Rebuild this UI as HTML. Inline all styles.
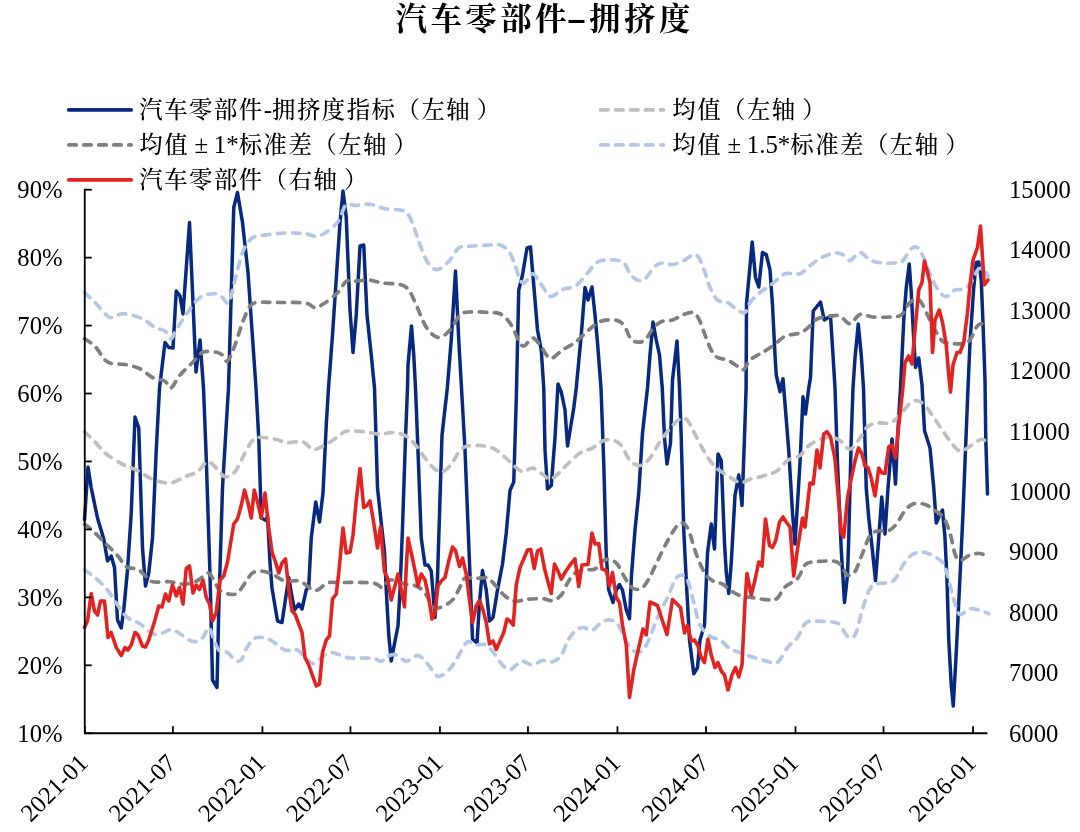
<!DOCTYPE html>
<html lang="zh"><head><meta charset="utf-8"><title>汽车零部件-拥挤度</title>
<style>
html,body{margin:0;padding:0;background:#fff;}
body{width:1080px;height:832px;overflow:hidden;position:relative}
svg{display:block;position:absolute;left:0;top:0}
.title{position:absolute;left:0;top:0;width:1080px;height:44px;margin:0;white-space:nowrap;
 font-family:"Liberation Serif","Noto Serif CJK SC",serif;font-weight:700;font-size:31.5px;line-height:44px;letter-spacing:3.4px;color:#000}
.title .in{position:absolute;left:395.5px;top:-3.5px}
.title .dash{display:inline-block;font-family:"Liberation Sans",sans-serif;letter-spacing:0;width:19px;text-align:center;transform:translate(-3px,0px) scale(2.0,.8)}
.lg{font-family:"Liberation Serif","Noto Serif CJK SC",serif;font-size:23.4px;letter-spacing:1.5px;fill:#000;font-weight:500}
.lg .l{font-family:"Liberation Serif",serif;font-size:24.9px;letter-spacing:0;font-weight:400}
.ax{font-family:"Liberation Serif",serif;font-size:24.7px;fill:#000}
.ln{fill:none;stroke-linejoin:round;stroke-linecap:round}
</style></head><body>
<svg width="1080" height="832" viewBox="0 0 1080 832">
<rect width="1080" height="832" fill="#fff"/>
<line x1="68.8" y1="109.9" x2="131.2" y2="109.9" stroke="#07297f" stroke-width="3.8" stroke-linecap="round"/>
<text class="lg" x="139.3" y="118.20">汽车零部件<tspan class="l">-</tspan>拥挤度指标（左轴<tspan dx="5.5">）</tspan></text>
<line x1="68.8" y1="144.9" x2="131.2" y2="144.9" stroke="#7f7f7f" stroke-width="3.8" stroke-linecap="round" stroke-dasharray="7.4 7.6"/>
<text class="lg" x="139.3" y="153.20">均值<tspan class="l" dx="5.5">±</tspan><tspan class="l" dx="5.5">1*</tspan>标准差（左轴<tspan dx="5.5">）</tspan></text>
<line x1="68.8" y1="179.8" x2="131.2" y2="179.8" stroke="#e12322" stroke-width="3.8" stroke-linecap="round"/>
<text class="lg" x="139.3" y="188.10">汽车零部件（右轴<tspan dx="5.5">）</tspan></text>
<line x1="600.65" y1="109.9" x2="663.35" y2="109.9" stroke="#bfbfbf" stroke-width="3.8" stroke-linecap="round" stroke-dasharray="7.4 7.6"/>
<text class="lg" x="672.3" y="118.20">均值（左轴<tspan dx="5.5">）</tspan></text>
<line x1="600.65" y1="144.9" x2="663.35" y2="144.9" stroke="#b4c7e7" stroke-width="3.8" stroke-linecap="round" stroke-dasharray="7.4 7.6"/>
<text class="lg" x="672.3" y="153.20">均值<tspan class="l" dx="5.5">±</tspan><tspan class="l" dx="5.5">1.5*</tspan>标准差（左轴<tspan dx="5.5">）</tspan></text>
<polyline class="ln" points="84.50,520.00 88.00,467.00 91.25,488.00 97.50,518.00 103.75,539.00 107.50,561.00 111.25,556.00 114.50,567.50 117.50,620.00 121.25,628.00 123.75,610.00 127.50,570.00 131.25,513.00 135.00,417.00 138.75,428.00 142.50,548.00 145.50,586.00 148.75,573.00 152.50,538.00 156.25,450.00 159.50,388.00 165.00,342.50 168.75,347.50 173.00,348.00 176.25,291.00 180.00,296.00 183.00,314.00 189.50,222.50 196.00,372.00 200.00,340.00 203.50,388.00 206.25,458.00 210.00,575.00 212.50,680.00 217.00,687.50 218.75,610.00 222.50,488.00 226.25,425.00 228.50,388.00 233.75,207.50 237.50,192.50 242.50,222.50 248.00,272.50 256.00,388.00 258.75,438.00 261.25,518.00 266.25,520.50 267.50,515.50 270.00,563.00 272.00,588.00 277.50,621.00 282.00,622.50 288.75,577.50 291.25,592.50 294.50,610.00 298.75,604.00 302.00,609.00 306.25,590.00 308.75,586.00 311.25,538.00 315.75,502.00 319.50,522.00 323.00,493.00 326.25,425.00 328.50,388.00 332.50,335.00 340.00,222.50 343.00,191.00 346.25,217.50 350.00,310.00 353.00,352.50 356.25,315.00 360.00,246.00 363.75,245.00 367.00,315.00 371.25,355.00 374.50,388.00 377.50,488.00 381.25,523.00 384.50,552.00 386.25,590.00 388.75,635.00 391.25,661.00 393.75,647.50 398.00,626.00 400.00,590.00 402.50,528.00 405.50,438.00 407.50,388.00 408.00,365.00 411.50,326.00 413.75,355.00 415.50,388.00 417.50,438.00 421.25,538.00 425.00,565.00 428.00,565.00 431.25,571.00 435.00,617.50 437.50,577.50 438.75,538.00 442.00,435.50 447.30,388.00 451.25,340.00 455.50,271.00 458.75,340.00 461.50,388.00 465.00,450.00 470.00,575.00 472.50,639.00 477.00,643.00 479.50,602.50 482.50,570.50 486.25,590.00 489.50,621.00 493.00,617.50 497.50,590.00 502.50,564.00 506.25,533.00 510.00,490.50 513.75,482.00 516.25,400.00 518.75,290.00 522.50,275.00 527.00,248.00 530.50,247.00 533.75,285.00 537.50,330.00 541.25,350.00 543.75,388.00 545.00,450.00 547.50,489.00 551.25,485.50 555.00,438.00 558.00,384.00 561.25,392.00 565.00,410.00 567.50,446.00 573.75,408.00 576.25,388.00 581.25,335.00 585.00,287.50 588.00,300.00 592.00,287.00 595.00,315.00 597.50,342.50 601.00,388.00 603.75,463.00 606.25,555.00 608.75,590.00 613.00,602.50 616.25,590.00 619.50,584.50 622.50,590.00 626.25,610.00 629.50,618.75 631.50,575.00 635.00,530.00 638.75,493.00 642.50,433.00 647.50,388.00 650.00,355.00 653.00,322.00 656.25,340.00 659.50,355.00 662.25,388.00 664.50,438.00 667.00,464.00 670.50,443.00 672.50,380.00 677.00,341.00 679.50,388.00 681.25,438.00 683.75,530.00 686.25,580.00 689.50,640.00 693.75,673.75 697.50,667.50 700.00,640.00 704.50,625.00 707.50,553.00 711.25,524.00 714.50,549.00 718.00,454.00 721.25,460.50 724.50,543.00 726.25,572.00 728.75,593.50 731.25,563.00 735.00,495.50 738.75,475.00 742.00,505.50 744.50,438.00 746.10,388.00 746.50,304.00 752.20,242.00 755.50,277.50 758.75,287.00 762.50,252.50 766.25,254.50 770.00,270.00 772.50,305.00 775.00,355.00 776.25,375.00 780.00,391.75 783.00,378.75 788.75,450.50 792.50,513.00 795.00,544.00 800.00,463.00 803.00,396.75 805.50,414.00 808.75,388.00 810.50,377.50 813.25,311.00 820.50,302.00 824.25,320.00 830.50,316.00 833.00,355.00 835.00,388.00 837.50,463.00 841.25,550.00 844.50,602.50 847.50,575.00 848.75,538.00 851.25,438.00 853.00,388.00 855.00,358.00 858.25,324.00 861.25,355.00 863.50,388.00 866.25,488.00 868.75,518.00 872.50,551.00 875.50,580.50 878.75,538.00 881.75,497.00 885.00,534.00 888.00,488.00 892.00,439.00 895.50,484.00 897.50,438.00 900.50,388.00 903.75,320.00 906.25,287.50 909.25,264.00 911.25,292.50 913.75,340.00 915.50,367.50 918.75,358.00 922.00,385.00 924.50,430.50 930.00,448.00 933.75,488.00 936.25,523.00 939.50,515.50 942.50,510.00 945.00,538.00 947.00,580.00 948.75,640.00 951.25,685.00 953.25,706.00 956.25,652.50 958.75,602.50 961.00,556.00 963.00,513.00 965.50,450.00 968.00,388.00 970.00,342.50 973.75,287.50 976.25,262.50 978.75,262.00 981.25,280.00 983.25,330.00 985.00,380.00 985.75,438.00 987.50,494.00" stroke="#07297f" stroke-width="3.5"/>
<path class="ln" d="M84.50 431.75C86.25 433.42 91.58 438.21 95.00 441.75C98.42 445.29 100.42 449.25 105.00 453.00C109.58 456.75 117.08 461.33 122.50 464.25C127.92 467.17 132.50 468.00 137.50 470.50C142.50 473.00 147.08 477.17 152.50 479.25C157.92 481.33 164.58 483.42 170.00 483.00C175.42 482.58 180.42 478.62 185.00 476.75C189.58 474.88 193.75 474.25 197.50 471.75C201.25 469.25 204.38 462.38 207.50 461.75C210.62 461.12 213.33 465.50 216.25 468.00C219.17 470.50 221.88 476.12 225.00 476.75C228.12 477.38 231.67 475.71 235.00 471.75C238.33 467.79 242.08 458.21 245.00 453.00C247.92 447.79 250.00 443.12 252.50 440.50C255.00 437.88 256.25 437.46 260.00 437.25C263.75 437.04 270.42 438.38 275.00 439.25C279.58 440.12 282.92 442.08 287.50 442.50C292.08 442.92 298.33 440.62 302.50 441.75C306.67 442.88 309.58 448.29 312.50 449.25C315.42 450.21 316.67 448.96 320.00 447.50C323.33 446.04 328.75 442.92 332.50 440.50C336.25 438.08 340.00 434.58 342.50 433.00C345.00 431.42 343.75 431.21 347.50 431.00C351.25 430.79 359.58 431.21 365.00 431.75C370.42 432.29 375.42 434.12 380.00 434.25C384.58 434.38 388.33 432.29 392.50 432.50C396.67 432.71 401.25 433.54 405.00 435.50C408.75 437.46 411.67 440.50 415.00 444.25C418.33 448.00 421.67 453.83 425.00 458.00C428.33 462.17 432.08 466.96 435.00 469.25C437.92 471.54 439.79 472.58 442.50 471.75C445.21 470.92 448.33 467.79 451.25 464.25C454.17 460.71 457.29 453.54 460.00 450.50C462.71 447.46 464.17 446.83 467.50 446.00C470.83 445.17 475.83 445.17 480.00 445.50C484.17 445.83 488.75 446.42 492.50 448.00C496.25 449.58 499.17 452.29 502.50 455.00C505.83 457.71 509.17 461.46 512.50 464.25C515.83 467.04 519.17 471.12 522.50 471.75C525.83 472.38 529.17 467.58 532.50 468.00C535.83 468.42 539.58 472.38 542.50 474.25C545.42 476.12 547.50 479.25 550.00 479.25C552.50 479.25 554.58 476.75 557.50 474.25C560.42 471.75 563.75 467.79 567.50 464.25C571.25 460.71 575.83 455.71 580.00 453.00C584.17 450.29 588.75 450.00 592.50 448.00C596.25 446.00 599.17 442.33 602.50 441.00C605.83 439.67 609.38 439.25 612.50 440.00C615.62 440.75 618.33 442.08 621.25 445.50C624.17 448.92 626.88 457.17 630.00 460.50C633.12 463.83 636.67 465.92 640.00 465.50C643.33 465.08 646.67 461.96 650.00 458.00C653.33 454.04 656.25 447.17 660.00 441.75C663.75 436.33 668.96 429.38 672.50 425.50C676.04 421.62 678.75 419.33 681.25 418.50C683.75 417.67 685.21 417.88 687.50 420.50C689.79 423.12 692.08 428.83 695.00 434.25C697.92 439.67 701.67 447.58 705.00 453.00C708.33 458.42 711.25 463.00 715.00 466.75C718.75 470.50 723.33 472.88 727.50 475.50C731.67 478.12 736.25 481.88 740.00 482.50C743.75 483.12 745.83 480.42 750.00 479.25C754.17 478.08 760.42 476.96 765.00 475.50C769.58 474.04 773.75 473.00 777.50 470.50C781.25 468.00 783.75 463.00 787.50 460.50C791.25 458.00 796.67 457.79 800.00 455.50C803.33 453.21 804.58 449.25 807.50 446.75C810.42 444.25 813.75 442.12 817.50 440.50C821.25 438.88 826.25 437.00 830.00 437.00C833.75 437.00 836.67 438.46 840.00 440.50C843.33 442.54 846.67 449.67 850.00 449.25C853.33 448.83 857.08 441.75 860.00 438.00C862.92 434.25 864.58 429.25 867.50 426.75C870.42 424.25 873.75 423.62 877.50 423.00C881.25 422.38 886.25 424.25 890.00 423.00C893.75 421.75 896.88 418.62 900.00 415.50C903.12 412.38 906.04 406.75 908.75 404.25C911.46 401.75 913.75 400.50 916.25 400.50C918.75 400.50 921.04 401.75 923.75 404.25C926.46 406.75 929.38 411.12 932.50 415.50C935.62 419.88 939.17 425.71 942.50 430.50C945.83 435.29 949.58 440.83 952.50 444.25C955.42 447.67 957.50 450.38 960.00 451.00C962.50 451.62 964.58 449.67 967.50 448.00C970.42 446.33 975.00 442.46 977.50 441.00C980.00 439.54 981.04 439.12 982.50 439.25C983.96 439.38 985.62 441.33 986.25 441.75" stroke="#bfbfbf" stroke-width="3.7" stroke-dasharray="7.4 7.6"/>
<path class="ln" d="M84.50 338.75C86.25 340.00 91.58 342.71 95.00 346.25C98.42 349.79 102.08 357.08 105.00 360.00C107.92 362.92 109.17 363.00 112.50 363.75C115.83 364.50 120.42 363.67 125.00 364.50C129.58 365.33 135.42 366.58 140.00 368.75C144.58 370.92 148.33 375.42 152.50 377.50C156.67 379.58 161.92 379.50 165.00 381.25C168.08 383.00 168.50 389.04 171.00 388.00C173.50 386.96 176.42 379.25 180.00 375.00C183.58 370.75 188.75 366.25 192.50 362.50C196.25 358.75 198.75 354.25 202.50 352.50C206.25 350.75 211.67 351.58 215.00 352.00C218.33 352.42 220.42 353.46 222.50 355.00C224.58 356.54 225.42 362.92 227.50 361.25C229.58 359.58 232.50 351.46 235.00 345.00C237.50 338.54 240.00 328.96 242.50 322.50C245.00 316.04 247.50 309.58 250.00 306.25C252.50 302.92 252.50 303.12 257.50 302.50C262.50 301.88 272.08 302.42 280.00 302.50C287.92 302.58 299.17 302.17 305.00 303.00C310.83 303.83 311.88 307.38 315.00 307.50C318.12 307.62 320.42 305.83 323.75 303.75C327.08 301.67 332.29 297.29 335.00 295.00C337.71 292.71 338.12 292.29 340.00 290.00C341.88 287.71 343.75 282.71 346.25 281.25C348.75 279.79 351.25 281.46 355.00 281.25C358.75 281.04 364.17 279.71 368.75 280.00C373.33 280.29 377.29 282.25 382.50 283.00C387.71 283.75 395.62 283.33 400.00 284.50C404.38 285.67 406.04 286.58 408.75 290.00C411.46 293.42 413.54 299.17 416.25 305.00C418.96 310.83 422.08 319.92 425.00 325.00C427.92 330.08 431.04 333.50 433.75 335.50C436.46 337.50 438.54 337.92 441.25 337.00C443.96 336.08 446.88 333.67 450.00 330.00C453.12 326.33 456.67 318.00 460.00 315.00C463.33 312.00 465.00 312.42 470.00 312.00C475.00 311.58 485.00 312.21 490.00 312.50C495.00 312.79 496.88 312.29 500.00 313.75C503.12 315.21 506.25 318.12 508.75 321.25C511.25 324.38 513.12 328.75 515.00 332.50C516.88 336.25 518.33 341.58 520.00 343.75C521.67 345.92 522.92 346.46 525.00 345.50C527.08 344.54 530.00 338.08 532.50 338.00C535.00 337.92 537.50 341.96 540.00 345.00C542.50 348.04 545.42 354.08 547.50 356.25C549.58 358.42 550.00 359.04 552.50 358.00C555.00 356.96 558.75 352.58 562.50 350.00C566.25 347.42 570.83 345.62 575.00 342.50C579.17 339.38 583.33 334.75 587.50 331.25C591.67 327.75 595.42 323.38 600.00 321.50C604.58 319.62 611.04 319.42 615.00 320.00C618.96 320.58 621.25 322.08 623.75 325.00C626.25 327.92 627.92 334.67 630.00 337.50C632.08 340.33 633.75 341.58 636.25 342.00C638.75 342.42 642.08 342.42 645.00 340.00C647.92 337.58 650.83 330.62 653.75 327.50C656.67 324.38 659.38 322.50 662.50 321.25C665.62 320.00 669.17 321.04 672.50 320.00C675.83 318.96 679.17 316.25 682.50 315.00C685.83 313.75 689.79 311.88 692.50 312.50C695.21 313.12 696.67 315.00 698.75 318.75C700.83 322.50 702.92 329.79 705.00 335.00C707.08 340.21 709.17 346.25 711.25 350.00C713.33 353.75 714.79 355.83 717.50 357.50C720.21 359.17 724.17 358.54 727.50 360.00C730.83 361.46 734.79 364.67 737.50 366.25C740.21 367.83 741.67 370.54 743.75 369.50C745.83 368.46 747.29 362.62 750.00 360.00C752.71 357.38 756.25 356.04 760.00 353.75C763.75 351.46 768.33 349.17 772.50 346.25C776.67 343.33 780.42 338.46 785.00 336.25C789.58 334.04 795.83 334.71 800.00 333.00C804.17 331.29 807.08 328.38 810.00 326.00C812.92 323.62 814.17 320.38 817.50 318.75C820.83 317.12 826.25 316.71 830.00 316.25C833.75 315.79 836.67 314.75 840.00 316.00C843.33 317.25 846.67 324.00 850.00 323.75C853.33 323.50 856.25 315.62 860.00 314.50C863.75 313.38 867.50 316.58 872.50 317.00C877.50 317.42 885.21 317.33 890.00 317.00C894.79 316.67 898.12 317.21 901.25 315.00C904.38 312.79 906.25 306.46 908.75 303.75C911.25 301.04 914.17 298.96 916.25 298.75C918.33 298.54 919.38 299.79 921.25 302.50C923.12 305.21 925.21 310.42 927.50 315.00C929.79 319.58 932.50 325.62 935.00 330.00C937.50 334.38 940.00 339.08 942.50 341.25C945.00 343.42 946.67 342.58 950.00 343.00C953.33 343.42 959.17 344.25 962.50 343.75C965.83 343.25 967.71 342.71 970.00 340.00C972.29 337.29 974.38 330.21 976.25 327.50C978.12 324.79 979.58 323.67 981.25 323.75C982.92 323.83 985.42 327.29 986.25 328.00" stroke="#7f7f7f" stroke-width="3.7" stroke-dasharray="7.4 7.6"/>
<path class="ln" d="M84.50 524.25C85.83 525.29 89.08 527.38 92.50 530.50C95.92 533.62 100.83 538.83 105.00 543.00C109.17 547.17 113.96 551.54 117.50 555.50C121.04 559.46 122.92 564.46 126.25 566.75C129.58 569.04 134.38 567.79 137.50 569.25C140.62 570.71 142.50 573.42 145.00 575.50C147.50 577.58 148.33 580.71 152.50 581.75C156.67 582.79 164.58 581.33 170.00 581.75C175.42 582.17 180.42 584.46 185.00 584.25C189.58 584.04 193.75 582.38 197.50 580.50C201.25 578.62 205.00 573.42 207.50 573.00C210.00 572.58 210.42 575.08 212.50 578.00C214.58 580.92 217.08 587.79 220.00 590.50C222.92 593.21 227.08 593.83 230.00 594.25C232.92 594.67 235.00 594.88 237.50 593.00C240.00 591.12 242.50 586.33 245.00 583.00C247.50 579.67 249.58 574.96 252.50 573.00C255.42 571.04 259.17 571.04 262.50 571.25C265.83 571.46 268.75 572.62 272.50 574.25C276.25 575.88 280.42 579.83 285.00 581.00C289.58 582.17 295.00 579.67 300.00 581.25C305.00 582.83 310.42 590.21 315.00 590.50C319.58 590.79 323.33 584.33 327.50 583.00C331.67 581.67 332.50 582.50 340.00 582.50C347.50 582.50 365.42 582.17 372.50 583.00C379.58 583.83 379.58 588.00 382.50 587.50C385.42 587.00 386.25 580.58 390.00 580.00C393.75 579.42 400.42 582.92 405.00 584.00C409.58 585.08 413.96 584.67 417.50 586.50C421.04 588.33 423.75 591.71 426.25 595.00C428.75 598.29 430.21 604.17 432.50 606.25C434.79 608.33 436.67 608.54 440.00 607.50C443.33 606.46 449.17 603.42 452.50 600.00C455.83 596.58 457.92 590.67 460.00 587.00C462.08 583.33 462.50 579.42 465.00 578.00C467.50 576.58 471.25 578.50 475.00 578.50C478.75 578.50 484.17 576.92 487.50 578.00C490.83 579.08 492.08 582.00 495.00 585.00C497.92 588.00 501.67 593.29 505.00 596.00C508.33 598.71 511.25 600.71 515.00 601.25C518.75 601.79 522.92 599.67 527.50 599.25C532.08 598.83 538.33 598.54 542.50 598.75C546.67 598.96 549.38 601.12 552.50 600.50C555.62 599.88 558.75 597.92 561.25 595.00C563.75 592.08 565.42 586.50 567.50 583.00C569.58 579.50 571.25 576.17 573.75 574.00C576.25 571.83 578.96 570.83 582.50 570.00C586.04 569.17 591.67 570.50 595.00 569.00C598.33 567.50 600.00 562.58 602.50 561.00C605.00 559.42 607.50 558.92 610.00 559.50C612.50 560.08 615.00 561.42 617.50 564.50C620.00 567.58 622.50 574.08 625.00 578.00C627.50 581.92 629.79 586.25 632.50 588.00C635.21 589.75 638.54 590.00 641.25 588.50C643.96 587.00 646.04 583.58 648.75 579.00C651.46 574.42 654.38 567.33 657.50 561.00C660.62 554.67 664.38 546.71 667.50 541.00C670.62 535.29 673.75 529.75 676.25 526.75C678.75 523.75 680.42 522.38 682.50 523.00C684.58 523.62 686.46 525.33 688.75 530.50C691.04 535.67 693.54 546.83 696.25 554.00C698.96 561.17 702.08 568.92 705.00 573.50C707.92 578.08 710.83 579.75 713.75 581.50C716.67 583.25 719.79 582.58 722.50 584.00C725.21 585.42 727.08 588.08 730.00 590.00C732.92 591.92 735.83 594.17 740.00 595.50C744.17 596.83 750.00 597.25 755.00 598.00C760.00 598.75 766.25 600.00 770.00 600.00C773.75 600.00 775.00 600.17 777.50 598.00C780.00 595.83 781.67 590.25 785.00 587.00C788.33 583.75 794.17 582.17 797.50 578.50C800.83 574.83 802.50 567.75 805.00 565.00C807.50 562.25 807.92 562.67 812.50 562.00C817.08 561.33 827.92 560.67 832.50 561.00C837.08 561.33 837.50 561.67 840.00 564.00C842.50 566.33 845.00 573.75 847.50 575.00C850.00 576.25 852.50 575.08 855.00 571.50C857.50 567.92 860.00 559.50 862.50 553.50C865.00 547.50 867.50 539.25 870.00 535.50C872.50 531.75 874.38 531.83 877.50 531.00C880.62 530.17 885.62 531.62 888.75 530.50C891.88 529.38 893.54 527.58 896.25 524.25C898.96 520.92 902.29 513.83 905.00 510.50C907.71 507.17 910.00 505.42 912.50 504.25C915.00 503.08 917.50 503.29 920.00 503.50C922.50 503.71 925.00 504.33 927.50 505.50C930.00 506.67 932.29 508.42 935.00 510.50C937.71 512.58 941.25 514.25 943.75 518.00C946.25 521.75 948.12 527.00 950.00 533.00C951.88 539.00 953.33 549.42 955.00 554.00C956.67 558.58 957.50 560.33 960.00 560.50C962.50 560.67 966.67 556.17 970.00 555.00C973.33 553.83 976.88 553.17 980.00 553.50C983.12 553.83 987.29 556.42 988.75 557.00" stroke="#7f7f7f" stroke-width="3.7" stroke-dasharray="7.4 7.6"/>
<path class="ln" d="M84.50 292.50C86.25 294.17 91.58 298.96 95.00 302.50C98.42 306.04 102.33 311.25 105.00 313.75C107.67 316.25 107.88 317.50 111.00 317.50C114.12 317.50 118.50 313.54 123.75 313.75C129.00 313.96 137.29 316.46 142.50 318.75C147.71 321.04 151.25 325.46 155.00 327.50C158.75 329.54 162.33 329.12 165.00 331.00C167.67 332.88 169.17 338.92 171.00 338.75C172.83 338.58 173.25 334.38 176.00 330.00C178.75 325.62 183.50 317.92 187.50 312.50C191.50 307.08 195.42 300.62 200.00 297.50C204.58 294.38 211.25 293.75 215.00 293.75C218.75 293.75 220.21 296.04 222.50 297.50C224.79 298.96 226.67 305.42 228.75 302.50C230.83 299.58 232.71 288.33 235.00 280.00C237.29 271.67 240.00 259.17 242.50 252.50C245.00 245.83 247.50 242.71 250.00 240.00C252.50 237.29 251.67 237.42 257.50 236.25C263.33 235.08 277.08 233.42 285.00 233.00C292.92 232.58 300.00 233.21 305.00 233.75C310.00 234.29 311.88 236.25 315.00 236.25C318.12 236.25 320.42 235.62 323.75 233.75C327.08 231.88 332.29 227.62 335.00 225.00C337.71 222.38 338.33 221.17 340.00 218.00C341.67 214.83 343.33 208.25 345.00 206.00C346.67 203.75 348.33 204.58 350.00 204.50C351.67 204.42 351.67 205.54 355.00 205.50C358.33 205.46 365.00 203.71 370.00 204.25C375.00 204.79 379.58 207.71 385.00 208.75C390.42 209.79 398.33 209.04 402.50 210.50C406.67 211.96 407.50 213.00 410.00 217.50C412.50 222.00 415.00 230.83 417.50 237.50C420.00 244.17 422.50 252.42 425.00 257.50C427.50 262.58 430.00 266.12 432.50 268.00C435.00 269.88 437.08 270.08 440.00 268.75C442.92 267.42 446.88 263.46 450.00 260.00C453.12 256.54 455.42 250.29 458.75 248.00C462.08 245.71 464.79 246.75 470.00 246.25C475.21 245.75 485.00 245.21 490.00 245.00C495.00 244.79 496.88 243.96 500.00 245.00C503.12 246.04 506.25 247.92 508.75 251.25C511.25 254.58 513.12 260.21 515.00 265.00C516.88 269.79 518.33 277.08 520.00 280.00C521.67 282.92 522.92 283.54 525.00 282.50C527.08 281.46 530.00 273.75 532.50 273.75C535.00 273.75 537.50 279.17 540.00 282.50C542.50 285.83 545.42 291.46 547.50 293.75C549.58 296.04 550.00 296.96 552.50 296.25C555.00 295.54 558.75 291.17 562.50 289.50C566.25 287.83 571.25 288.46 575.00 286.25C578.75 284.04 581.25 280.29 585.00 276.25C588.75 272.21 593.33 264.71 597.50 262.00C601.67 259.29 607.08 260.33 610.00 260.00C612.92 259.67 612.71 259.58 615.00 260.00C617.29 260.42 621.25 260.21 623.75 262.50C626.25 264.79 627.71 270.83 630.00 273.75C632.29 276.67 635.00 279.17 637.50 280.00C640.00 280.83 642.08 281.04 645.00 278.75C647.92 276.46 652.08 268.88 655.00 266.25C657.92 263.62 659.58 263.29 662.50 263.00C665.42 262.71 668.75 265.00 672.50 264.50C676.25 264.00 681.67 261.58 685.00 260.00C688.33 258.42 690.21 255.42 692.50 255.00C694.79 254.58 696.67 254.58 698.75 257.50C700.83 260.42 703.12 267.50 705.00 272.50C706.88 277.50 707.92 282.92 710.00 287.50C712.08 292.08 714.58 297.50 717.50 300.00C720.42 302.50 724.17 300.83 727.50 302.50C730.83 304.17 734.58 308.33 737.50 310.00C740.42 311.67 742.92 313.75 745.00 312.50C747.08 311.25 747.50 305.83 750.00 302.50C752.50 299.17 756.25 295.62 760.00 292.50C763.75 289.38 768.33 286.88 772.50 283.75C776.67 280.62 780.42 275.42 785.00 273.75C789.58 272.08 795.42 275.42 800.00 273.75C804.58 272.08 808.75 266.54 812.50 263.75C816.25 260.96 818.75 258.79 822.50 257.00C826.25 255.21 831.67 253.42 835.00 253.00C838.33 252.58 840.00 253.25 842.50 254.50C845.00 255.75 847.08 260.83 850.00 260.50C852.92 260.17 856.67 252.58 860.00 252.50C863.33 252.42 866.25 258.25 870.00 260.00C873.75 261.75 878.33 262.50 882.50 263.00C886.67 263.50 891.67 263.29 895.00 263.00C898.33 262.71 900.00 263.42 902.50 261.25C905.00 259.08 907.71 252.38 910.00 250.00C912.29 247.62 914.38 246.58 916.25 247.00C918.12 247.42 919.38 249.08 921.25 252.50C923.12 255.92 925.21 262.08 927.50 267.50C929.79 272.92 932.50 280.42 935.00 285.00C937.50 289.58 940.42 293.12 942.50 295.00C944.58 296.88 945.42 297.08 947.50 296.25C949.58 295.42 952.08 291.25 955.00 290.00C957.92 288.75 962.08 290.42 965.00 288.75C967.92 287.08 970.21 283.33 972.50 280.00C974.79 276.67 976.67 270.21 978.75 268.75C980.83 267.29 983.46 270.00 985.00 271.25C986.54 272.50 987.50 275.42 988.00 276.25" stroke="#b4c7e7" stroke-width="3.7" stroke-dasharray="7.4 7.6"/>
<path class="ln" d="M84.50 570.00C86.25 571.25 91.17 574.17 95.00 577.50C98.83 580.83 103.75 585.42 107.50 590.00C111.25 594.58 114.17 600.42 117.50 605.00C120.83 609.58 123.75 614.38 127.50 617.50C131.25 620.62 135.83 621.04 140.00 623.75C144.17 626.46 148.75 632.21 152.50 633.75C156.25 635.29 159.38 633.71 162.50 633.00C165.62 632.29 168.33 629.38 171.25 629.50C174.17 629.62 176.88 631.92 180.00 633.75C183.12 635.58 187.08 639.25 190.00 640.50C192.92 641.75 195.21 641.96 197.50 641.25C199.79 640.54 201.88 638.54 203.75 636.25C205.62 633.96 207.08 627.08 208.75 627.50C210.42 627.92 212.08 635.00 213.75 638.75C215.42 642.50 216.46 647.71 218.75 650.00C221.04 652.29 224.79 650.83 227.50 652.50C230.21 654.17 232.71 658.75 235.00 660.00C237.29 661.25 239.38 661.88 241.25 660.00C243.12 658.12 244.17 652.29 246.25 648.75C248.33 645.21 251.04 640.62 253.75 638.75C256.46 636.88 259.38 637.08 262.50 637.50C265.62 637.92 268.75 639.17 272.50 641.25C276.25 643.33 280.83 648.54 285.00 650.00C289.17 651.46 294.17 648.75 297.50 650.00C300.83 651.25 302.29 655.21 305.00 657.50C307.71 659.79 311.04 663.75 313.75 663.75C316.46 663.75 318.54 659.38 321.25 657.50C323.96 655.62 326.88 652.92 330.00 652.50C333.12 652.08 336.67 654.08 340.00 655.00C343.33 655.92 344.58 657.46 350.00 658.00C355.42 658.54 367.29 657.71 372.50 658.25C377.71 658.79 378.75 661.58 381.25 661.25C383.75 660.92 385.00 657.29 387.50 656.25C390.00 655.21 393.12 654.17 396.25 655.00C399.38 655.83 403.12 661.04 406.25 661.25C409.38 661.46 412.71 657.08 415.00 656.25C417.29 655.42 417.92 655.00 420.00 656.25C422.08 657.50 425.00 660.83 427.50 663.75C430.00 666.67 432.92 671.67 435.00 673.75C437.08 675.83 437.50 677.08 440.00 676.25C442.50 675.42 447.08 671.88 450.00 668.75C452.92 665.62 455.21 661.25 457.50 657.50C459.79 653.75 461.88 648.96 463.75 646.25C465.62 643.54 466.88 641.46 468.75 641.25C470.62 641.04 472.29 644.46 475.00 645.00C477.71 645.54 482.08 643.46 485.00 644.50C487.92 645.54 489.58 647.83 492.50 651.25C495.42 654.67 499.58 661.96 502.50 665.00C505.42 668.04 507.71 669.50 510.00 669.50C512.29 669.50 514.17 666.38 516.25 665.00C518.33 663.62 519.79 661.25 522.50 661.25C525.21 661.25 529.17 665.12 532.50 665.00C535.83 664.88 539.17 661.04 542.50 660.50C545.83 659.96 549.38 662.58 552.50 661.75C555.62 660.92 558.75 658.92 561.25 655.50C563.75 652.08 565.21 645.29 567.50 641.25C569.79 637.21 572.50 633.54 575.00 631.25C577.50 628.96 579.58 627.71 582.50 627.50C585.42 627.29 589.38 630.83 592.50 630.00C595.62 629.17 598.33 624.17 601.25 622.50C604.17 620.83 607.29 619.79 610.00 620.00C612.71 620.21 615.00 620.62 617.50 623.75C620.00 626.88 622.50 634.38 625.00 638.75C627.50 643.12 629.79 647.92 632.50 650.00C635.21 652.08 638.54 652.92 641.25 651.25C643.96 649.58 646.04 645.62 648.75 640.00C651.46 634.38 654.38 624.58 657.50 617.50C660.62 610.42 664.58 603.75 667.50 597.50C670.42 591.25 672.71 583.75 675.00 580.00C677.29 576.25 679.17 575.00 681.25 575.00C683.33 575.00 685.42 575.42 687.50 580.00C689.58 584.58 691.67 595.00 693.75 602.50C695.83 610.00 697.29 619.38 700.00 625.00C702.71 630.62 706.67 633.75 710.00 636.25C713.33 638.75 716.67 637.92 720.00 640.00C723.33 642.08 726.67 646.67 730.00 648.75C733.33 650.83 736.67 651.25 740.00 652.50C743.33 653.75 746.25 655.00 750.00 656.25C753.75 657.50 758.75 658.96 762.50 660.00C766.25 661.04 769.79 662.29 772.50 662.50C775.21 662.71 776.25 663.75 778.75 661.25C781.25 658.75 784.38 651.46 787.50 647.50C790.62 643.54 794.58 641.46 797.50 637.50C800.42 633.54 802.50 626.46 805.00 623.75C807.50 621.04 807.92 621.54 812.50 621.25C817.08 620.96 827.92 621.38 832.50 622.00C837.08 622.62 837.71 622.83 840.00 625.00C842.29 627.17 844.38 632.92 846.25 635.00C848.12 637.08 849.58 637.92 851.25 637.50C852.92 637.08 854.38 637.25 856.25 632.50C858.12 627.75 860.21 616.29 862.50 609.00C864.79 601.71 867.50 592.96 870.00 588.75C872.50 584.54 874.17 584.79 877.50 583.75C880.83 582.71 886.88 583.54 890.00 582.50C893.12 581.46 893.96 580.62 896.25 577.50C898.54 574.38 901.04 567.58 903.75 563.75C906.46 559.92 909.38 556.46 912.50 554.50C915.62 552.54 919.17 551.83 922.50 552.00C925.83 552.17 929.17 553.75 932.50 555.50C935.83 557.25 940.00 559.25 942.50 562.50C945.00 565.75 945.83 569.58 947.50 575.00C949.17 580.42 950.83 588.96 952.50 595.00C954.17 601.04 956.04 608.00 957.50 611.25C958.96 614.50 959.17 614.92 961.25 614.50C963.33 614.08 966.88 609.42 970.00 608.75C973.12 608.08 976.88 609.67 980.00 610.50C983.12 611.33 987.29 613.21 988.75 613.75" stroke="#b4c7e7" stroke-width="3.7" stroke-dasharray="7.4 7.6"/>
<polyline class="ln" points="84.50,627.50 87.50,621.00 91.25,593.50 94.50,611.00 97.50,615.00 100.50,601.00 104.50,601.00 108.00,637.50 111.25,632.50 116.25,647.50 121.25,655.50 125.00,647.50 128.00,650.00 131.25,645.00 135.00,632.50 138.00,635.00 142.50,646.00 145.50,647.00 148.75,640.00 155.00,620.00 158.75,606.00 162.00,607.00 165.50,594.00 168.75,601.00 172.50,585.00 176.25,596.00 179.50,587.50 183.00,604.00 186.25,568.50 189.50,566.00 193.00,593.00 196.25,585.00 199.50,589.50 203.00,580.00 206.25,597.50 209.50,604.00 212.50,621.00 216.25,612.50 220.00,580.00 223.75,576.00 227.50,562.00 233.75,524.00 237.50,519.00 241.25,505.50 244.50,490.00 248.00,503.00 251.25,518.00 254.25,490.00 258.00,504.00 261.25,518.00 265.00,493.00 268.75,528.00 272.00,552.00 275.00,560.50 278.75,573.00 282.00,563.00 285.50,559.00 288.75,589.00 292.00,611.00 295.00,614.00 302.00,632.50 305.00,657.50 308.75,665.00 316.25,686.00 319.50,684.00 322.50,652.50 326.25,640.00 329.50,636.00 332.50,599.00 336.25,594.00 338.75,573.00 343.00,528.00 346.25,553.00 350.00,552.00 353.00,535.50 356.25,500.50 360.00,468.50 363.75,507.50 367.00,505.50 370.00,501.00 373.75,523.00 377.50,548.00 380.50,527.00 384.50,571.50 387.50,578.00 391.25,600.00 394.50,587.50 398.00,574.00 401.25,590.00 404.50,607.00 406.25,568.00 408.00,538.00 411.25,553.00 414.50,568.00 418.00,586.00 421.25,574.00 425.00,580.00 428.75,597.50 432.00,619.00 435.00,612.50 438.00,586.00 441.25,581.00 445.00,577.50 448.75,561.00 452.50,547.00 455.50,550.50 459.50,566.50 462.50,558.00 466.25,574.00 469.50,600.00 472.50,622.50 476.25,606.00 479.50,600.50 483.00,610.00 486.25,622.50 489.50,644.00 493.00,641.00 496.25,649.50 500.00,641.00 503.75,632.50 507.00,619.00 510.00,621.00 513.25,625.00 516.25,585.00 520.00,567.50 523.75,559.00 527.50,550.00 530.75,549.50 534.25,568.50 537.50,551.00 540.75,549.00 544.50,568.50 547.50,580.00 551.25,593.50 554.50,564.00 557.50,570.00 561.25,579.00 565.00,572.50 570.00,565.00 575.00,559.00 578.75,586.50 582.00,565.00 588.00,564.50 592.00,533.00 595.00,544.00 598.75,543.50 602.00,569.00 606.25,570.50 609.50,586.00 612.50,572.50 616.25,597.50 619.50,602.50 622.50,625.00 626.25,645.00 629.50,697.50 633.75,670.00 638.75,647.50 643.00,629.00 646.25,635.00 650.00,602.00 657.50,605.50 662.50,621.00 667.00,634.50 672.50,599.50 680.50,607.50 684.50,633.00 687.50,625.50 691.25,641.00 694.50,640.00 698.00,646.00 701.25,657.50 704.50,662.50 708.00,639.00 711.25,655.00 715.00,667.50 718.00,662.50 721.25,671.00 724.50,675.00 728.00,690.00 732.00,675.00 735.50,667.50 738.75,677.00 742.00,665.00 745.00,602.50 747.00,573.50 751.25,595.00 755.00,580.00 758.75,562.00 762.00,566.00 765.50,519.00 769.50,545.50 772.50,547.50 775.75,540.50 779.50,522.00 783.00,517.00 786.25,522.00 790.00,527.00 793.75,576.00 797.50,549.00 802.50,518.00 805.00,527.00 810.00,483.00 813.25,484.00 817.00,450.00 820.00,468.00 823.75,434.00 827.00,431.75 830.50,436.75 835.00,459.00 838.75,502.00 841.25,533.00 843.75,537.00 847.50,498.00 851.25,478.50 855.00,461.00 858.50,448.00 862.00,454.00 865.00,466.00 868.00,467.50 871.25,478.00 875.00,496.00 878.75,468.00 882.00,473.00 885.00,473.50 888.75,446.75 892.00,445.00 895.50,458.00 898.75,425.50 902.50,392.00 905.00,362.50 908.75,356.00 912.00,364.00 915.00,330.00 918.75,290.00 922.00,282.50 924.50,261.00 927.50,272.50 930.00,282.50 932.50,352.50 935.00,320.00 939.25,310.00 942.50,322.50 946.25,345.00 948.75,375.00 950.50,392.00 953.00,365.00 957.00,352.50 960.00,352.50 963.75,342.50 967.50,312.50 970.00,285.00 973.00,260.00 977.50,247.50 980.50,226.00 984.25,285.00 988.00,280.00" stroke="#e12322" stroke-width="3.6"/>
<path d="M84.75 188.79999999999998V733.25H987.5" fill="none" stroke="#000" stroke-width="1.8"/>
<line x1="84.75" y1="189.70" x2="91.75" y2="189.70" stroke="#000" stroke-width="1.8"/>
<text class="ax" x="62.6" y="198.10" text-anchor="end">90%</text>
<line x1="84.75" y1="257.64" x2="91.75" y2="257.64" stroke="#000" stroke-width="1.8"/>
<text class="ax" x="62.6" y="266.04" text-anchor="end">80%</text>
<line x1="84.75" y1="325.59" x2="91.75" y2="325.59" stroke="#000" stroke-width="1.8"/>
<text class="ax" x="62.6" y="333.99" text-anchor="end">70%</text>
<line x1="84.75" y1="393.53" x2="91.75" y2="393.53" stroke="#000" stroke-width="1.8"/>
<text class="ax" x="62.6" y="401.93" text-anchor="end">60%</text>
<line x1="84.75" y1="461.47" x2="91.75" y2="461.47" stroke="#000" stroke-width="1.8"/>
<text class="ax" x="62.6" y="469.87" text-anchor="end">50%</text>
<line x1="84.75" y1="529.42" x2="91.75" y2="529.42" stroke="#000" stroke-width="1.8"/>
<text class="ax" x="62.6" y="537.82" text-anchor="end">40%</text>
<line x1="84.75" y1="597.36" x2="91.75" y2="597.36" stroke="#000" stroke-width="1.8"/>
<text class="ax" x="62.6" y="605.76" text-anchor="end">30%</text>
<line x1="84.75" y1="665.31" x2="91.75" y2="665.31" stroke="#000" stroke-width="1.8"/>
<text class="ax" x="62.6" y="673.71" text-anchor="end">20%</text>
<line x1="84.75" y1="733.25" x2="91.75" y2="733.25" stroke="#000" stroke-width="1.8"/>
<text class="ax" x="62.6" y="741.65" text-anchor="end">10%</text>
<text class="ax" x="1009.0" y="198.10">15000</text>
<text class="ax" x="1009.0" y="258.49">14000</text>
<text class="ax" x="1009.0" y="318.89">13000</text>
<text class="ax" x="1009.0" y="379.28">12000</text>
<text class="ax" x="1009.0" y="439.68">11000</text>
<text class="ax" x="1009.0" y="500.07">10000</text>
<text class="ax" x="1009.0" y="560.47">9000</text>
<text class="ax" x="1009.0" y="620.86">8000</text>
<text class="ax" x="1009.0" y="681.26">7000</text>
<text class="ax" x="1009.0" y="741.65">6000</text>
<line x1="84.90" y1="733.25" x2="84.90" y2="726.25" stroke="#000" stroke-width="1.8"/>
<text class="ax" style="font-size:24.8px" text-anchor="end" transform="translate(89.20,764.45) rotate(-45)">2021-01</text>
<line x1="172.93" y1="733.25" x2="172.93" y2="726.25" stroke="#000" stroke-width="1.8"/>
<text class="ax" style="font-size:24.8px" text-anchor="end" transform="translate(177.23,764.45) rotate(-45)">2021-07</text>
<line x1="262.42" y1="733.25" x2="262.42" y2="726.25" stroke="#000" stroke-width="1.8"/>
<text class="ax" style="font-size:24.8px" text-anchor="end" transform="translate(266.72,764.45) rotate(-45)">2022-01</text>
<line x1="350.45" y1="733.25" x2="350.45" y2="726.25" stroke="#000" stroke-width="1.8"/>
<text class="ax" style="font-size:24.8px" text-anchor="end" transform="translate(354.75,764.45) rotate(-45)">2022-07</text>
<line x1="439.95" y1="733.25" x2="439.95" y2="726.25" stroke="#000" stroke-width="1.8"/>
<text class="ax" style="font-size:24.8px" text-anchor="end" transform="translate(444.25,764.45) rotate(-45)">2023-01</text>
<line x1="527.98" y1="733.25" x2="527.98" y2="726.25" stroke="#000" stroke-width="1.8"/>
<text class="ax" style="font-size:24.8px" text-anchor="end" transform="translate(532.28,764.45) rotate(-45)">2023-07</text>
<line x1="617.47" y1="733.25" x2="617.47" y2="726.25" stroke="#000" stroke-width="1.8"/>
<text class="ax" style="font-size:24.8px" text-anchor="end" transform="translate(621.77,764.45) rotate(-45)">2024-01</text>
<line x1="705.99" y1="733.25" x2="705.99" y2="726.25" stroke="#000" stroke-width="1.8"/>
<text class="ax" style="font-size:24.8px" text-anchor="end" transform="translate(710.29,764.45) rotate(-45)">2024-07</text>
<line x1="795.48" y1="733.25" x2="795.48" y2="726.25" stroke="#000" stroke-width="1.8"/>
<text class="ax" style="font-size:24.8px" text-anchor="end" transform="translate(799.78,764.45) rotate(-45)">2025-01</text>
<line x1="883.51" y1="733.25" x2="883.51" y2="726.25" stroke="#000" stroke-width="1.8"/>
<text class="ax" style="font-size:24.8px" text-anchor="end" transform="translate(887.81,764.45) rotate(-45)">2025-07</text>
<line x1="973.00" y1="733.25" x2="973.00" y2="726.25" stroke="#000" stroke-width="1.8"/>
<text class="ax" style="font-size:24.8px" text-anchor="end" transform="translate(977.30,764.45) rotate(-45)">2026-01</text>
</svg>
<h1 class="title"><span class="in">汽车零部件<span class="dash">-</span>拥挤度</span></h1>
</body></html>
